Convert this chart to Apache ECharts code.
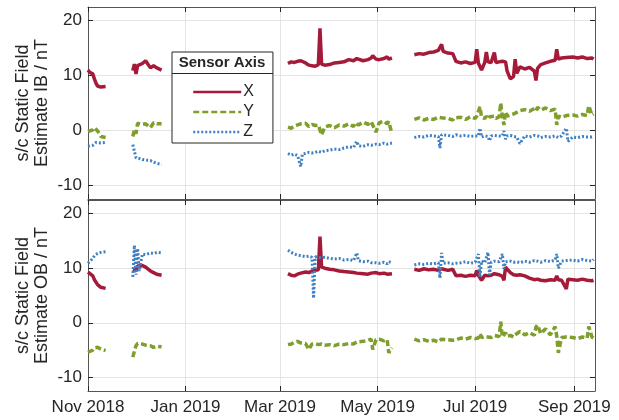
<!DOCTYPE html>
<html>
<head>
<meta charset="utf-8">
<title>Static field estimate</title>
<script src="https://cdn.jsdelivr.net/npm/echarts@6/dist/echarts.min.js"></script>
<style>
  html, body { margin: 0; padding: 0; background: #fff; }
  #chart { width: 619px; height: 420px; }
</style>
</head>
<body>
<div id="chart"></div>
<script>
// sample dates (a lone date with null values = data gap)
var dates = [
  '2018-11-01','2018-11-02','2018-11-04','2018-11-05','2018-11-06','2018-11-07','2018-11-09','2018-11-12',
  '2018-11-20',
  '2018-11-29','2018-11-30','2018-12-01','2018-12-02','2018-12-03','2018-12-05','2018-12-07','2018-12-08',
  '2018-12-10','2018-12-12','2018-12-14','2018-12-17',
  '2019-01-20',
  '2019-03-06','2019-03-08','2019-03-10','2019-03-12','2019-03-13','2019-03-14','2019-03-15','2019-03-17',
  '2019-03-19','2019-03-21','2019-03-22','2019-03-23','2019-03-25','2019-03-26','2019-03-27','2019-03-29',
  '2019-04-01','2019-04-04','2019-04-07','2019-04-10','2019-04-13','2019-04-16','2019-04-17','2019-04-18',
  '2019-04-19','2019-04-22','2019-04-25','2019-04-27','2019-04-28','2019-04-30','2019-05-02','2019-05-05',
  '2019-05-07','2019-05-08','2019-05-10',
  '2019-05-17',
  '2019-05-24','2019-05-27','2019-05-30','2019-06-02','2019-06-05','2019-06-08','2019-06-09','2019-06-10',
  '2019-06-11','2019-06-14','2019-06-17','2019-06-18','2019-06-19','2019-06-22','2019-06-25','2019-06-28',
  '2019-07-01','2019-07-02','2019-07-03','2019-07-04','2019-07-05','2019-07-07','2019-07-08','2019-07-09',
  '2019-07-10','2019-07-11','2019-07-13','2019-07-14','2019-07-16','2019-07-17','2019-07-18','2019-07-19',
  '2019-07-20','2019-07-21','2019-07-23','2019-07-25','2019-07-26','2019-07-27','2019-07-29','2019-08-01',
  '2019-08-04','2019-08-07','2019-08-08','2019-08-09','2019-08-11','2019-08-14','2019-08-17','2019-08-20',
  '2019-08-21','2019-08-22','2019-08-24','2019-08-27','2019-08-28','2019-08-31','2019-09-03','2019-09-06',
  '2019-09-09','2019-09-10','2019-09-12','2019-09-13'
];

// IB sensor estimate, nT
var ibX = [
  11.0, 10.6, 10.3, 9.4, 8.6, 8.1, 7.9, 8.0,
  null,
  10.9, 12.1, 10.3, 11.8, 11.6, 12.2, 12.7, 12.9, 11.4, 11.8, 11.4, 11.0,
  null,
  12.2, 12.5, 12.4, 12.6, 12.8, 12.7, 12.5, 12.3, 11.9, 11.8, 11.9, 11.7, 12.0, 18.6, 12.1, 11.9, 12.0, 12.3,
  12.4, 12.5, 12.9, 12.7, 12.8, 13.1, 12.8, 12.7, 12.9, 13.2, 13.6, 13.0, 12.9, 13.1, 13.4, 13.0, 13.2,
  null,
  13.8, 14.0, 13.9, 14.2, 14.3, 14.6, 14.5, 15.7, 14.4, 14.1, 14.0, 13.9, 12.6, 12.3, 12.5, 12.2, 12.4, 14.8,
  12.3, 12.5, 11.0, 12.4, 14.3, 12.5, 12.2, 12.4, 14.2, 12.4, 12.5, 12.3, 12.6, 12.4, 12.5, 10.8, 9.4, 9.8,
  13.0, 10.4, 11.6, 11.2, 11.5, 10.8, 9.1, 11.3, 12.0, 12.3, 12.6, 12.8, 14.8, 13.0, 13.2, 13.3, 13.1, 13.4,
  13.2, 13.4, 13.1, 13.3, 13.2, 13.0
];
var ibY = [
  -0.2, 0.0, 0.1, 0.5, 0.7, -0.1, -1.1, -1.3,
  null,
  -1.1, 0.1, -0.6, 1.3, 1.6, 1.1, 1.2, 1.3, 0.5, 1.4, 1.2, 1.2,
  null,
  0.6, 0.4, 0.8, 1.0, 1.1, 1.2, 0.9, 1.3, 0.7, 1.1, 1.0, 0.9, 1.0, 0.8, -0.8, 0.6, 0.9, 0.5,
  1.0, 0.8, 1.2, 0.7, 1.4, 1.3, 1.0, 1.5, 1.1, 1.6, 1.9, -0.3, 1.4, 1.7, 1.2, 1.6, -0.6,
  null,
  2.0, 2.3, 1.9, 2.2, 2.0, 2.4, 2.1, 2.3, 2.0, 2.2, 1.9, 2.3, 2.1, 2.4, 2.0, 2.5, 2.2, 2.6,
  2.3, 4.3, 2.4, 2.2, 2.6, 2.1, 2.5, 2.3, 2.6, 2.2, 2.5, 5.0, 2.4, 1.0, 3.4, 2.6, 2.8, 3.0,
  2.7, 3.3, 3.6, 3.8, 3.5, 4.0, 3.6, 4.2, 3.7, 4.1, 3.6, 3.9, 1.0, 2.6, 2.4, 2.7, 2.5, 2.8,
  2.6, 2.9, 2.7, 4.5, 2.8, 3.0
];
var ibZ = [
  -2.9, -3.0, -2.7, -2.5, -2.2, -2.0, -2.3, -2.2,
  null,
  -2.6, -3.8, -5.0, -4.7, -5.1, -5.3, -5.4, -5.6, -5.5, -5.8, -6.0, -6.2,
  null,
  -4.2, -4.5, -4.3, -4.6, -4.4, -6.6, -4.3, -4.2, -4.0, -4.1, -3.9, -4.0, -3.8, -3.9, -4.0, -3.7, -3.6, -3.4,
  -3.5, -3.2, -3.0, -3.1, -2.9, -2.0, -2.8, -2.9, -2.6, -2.7, -2.8, -2.5, -2.6, -2.3, -2.5, -2.2, -2.3,
  null,
  -1.3, -1.1, -1.2, -0.9, -1.0, -1.1, -3.2, -0.8, -1.0, -0.9, -1.1, -1.0, -0.8, -1.0, -0.9, -1.1, -1.0, -0.9,
  -1.0, 0.4, -1.2, -1.0, -0.8, -1.1, -1.9, -1.0, -0.9, -1.1, -1.0, -0.7, -1.0, -0.1, -1.6, -1.0, -0.9, -1.1,
  -1.0, -1.2, -2.4, -1.0, -1.2, -0.9, -1.1, -1.0, -1.3, -1.1, -1.2, -1.0, -1.1, -1.3, -1.0, 0.4, -2.0, -1.2,
  -1.3, -1.1, -1.2, -1.0, -1.2, -1.1
];

// OB sensor estimate, nT
var obX = [
  9.3, 9.0, 8.6, 7.9, 7.6, 7.0, 6.5, 6.3,
  null,
  9.7, 10.0, 9.5, 10.4, 10.6, 10.5, 10.2, 10.0, 9.5, 9.2, 8.9, 8.7,
  null,
  9.0, 8.7, 8.6, 8.9, 9.0, 9.1, 9.2, 9.3, 9.2, 9.5, 9.6, 9.6, 9.7, 15.8, 10.2, 10.0, 9.8, 9.7,
  9.5, 9.4, 9.3, 9.2, 9.3, 9.1, 9.2, 9.0, 8.9, 9.1, 9.0, 9.2, 9.0, 9.1, 8.9, 9.2, 9.0,
  null,
  9.8, 9.6, 9.9, 9.7, 9.8, 9.6, 9.4, 9.9, 9.7, 9.6, 9.8, 9.5, 8.6, 8.7, 8.5, 8.7, 8.6, 9.6,
  8.7, 8.8, 7.8, 8.7, 8.9, 8.6, 8.8, 8.7, 9.0, 8.7, 8.8, 8.6, 8.5, 7.8, 10.2, 9.8, 9.2, 8.8,
  8.9, 8.7, 8.8, 8.6, 8.2, 7.9, 7.8, 8.0, 7.8, 7.7, 7.9, 7.8, 8.6, 7.9, 7.8, 6.2, 8.0, 7.9,
  7.8, 8.0, 7.8, 7.9, 7.7, 7.8
];
var obY = [
  -5.4, -5.6, -5.0, -4.6, -4.4, -4.5, -4.8, -5.1,
  null,
  -6.3, -5.2, -4.2, -3.8, -3.6, -3.9, -4.1, -4.4, -4.2, -4.5, -4.3, -4.4,
  null,
  -4.0, -3.9, -3.6, -3.4, -3.5, -3.7, -4.0, -3.8, -4.9, -3.9, -4.1, -3.8, -4.0, -4.2, -3.9, -4.1, -4.0, -4.2,
  -3.9, -4.0, -3.8, -3.9, -3.6, -3.5, -3.7, -3.4, -3.2, -3.0, -4.9, -3.1, -3.0, -3.3, -3.1, -5.5, -4.6,
  null,
  -3.0, -3.3, -3.1, -3.4, -3.2, -3.5, -3.3, -3.0, -3.3, -3.1, -3.2, -2.9, -3.1, -2.8, -3.0, -2.7, -2.9, -2.6,
  -2.8, -2.0, -2.7, -2.5, -2.8, -2.6, -2.4, -2.7, -2.3, -2.6, -2.5, 0.2, -2.6, -2.4, -1.8, -2.5, -2.3, -2.6,
  -2.2, -2.5, -1.6, -2.2, -1.8, -2.3, -0.8, -0.4, -2.0, -1.1, -2.2, -0.7, -2.4, -5.5, -2.7, -2.6, -2.8, -2.7,
  -2.9, -2.6, -2.8, -0.7, -2.6, -2.8
];
var obZ = [
  10.9, 11.2, 11.8, 12.3, 12.5, 12.7, 12.9, 13.0,
  null,
  8.4, 14.2, 8.8, 13.6, 9.5, 12.6, 12.5, 12.7, 12.8, 12.7, 12.9, 12.8,
  null,
  13.3, 12.9, 12.6, 12.4, 12.3, 12.3, 12.2, 12.1, 12.2, 12.0, 4.5, 12.1, 12.0, 12.1, 11.9, 12.0, 11.8, 11.7,
  11.8, 11.5, 11.6, 11.4, 11.5, 12.8, 11.4, 11.2, 11.3, 11.0, 10.8, 11.0, 10.9, 11.1, 10.8, 11.2, 11.0,
  null,
  10.6, 10.8, 10.7, 10.9, 10.8, 11.0, 8.2, 12.8, 10.9, 11.0, 10.8, 11.1, 10.9, 11.0, 11.2, 10.9, 11.1, 11.0,
  12.6, 8.4, 11.3, 11.0, 11.2, 12.9, 8.8, 11.1, 11.3, 11.0, 11.2, 11.4, 12.6, 9.9, 11.2, 11.0, 11.3, 11.1,
  11.4, 11.2, 11.0, 11.3, 11.1, 11.4, 11.2, 11.3, 11.1, 11.4, 11.2, 11.5, 12.6, 10.0, 11.3, 11.4, 11.2, 11.5,
  11.3, 11.6, 11.4, 11.5, 11.3, 11.6
];

var tickDates = ['2018-11-01', '2019-01-01', '2019-03-01', '2019-05-01', '2019-07-01', '2019-09-01'];
var tickLabels = ['Nov 2018', 'Jan 2019', 'Mar 2019', 'May 2019', 'Jul 2019', 'Sep 2019'];
var yTicks = [-10, 0, 10, 20];
var xStart = '2018-11-01', xEnd = '2019-09-13 22:00:00';

var FONT = '"Liberation Sans", Arial, Helvetica, sans-serif';
var TEXT = '#262626';
var BORDER = '#555555';
var GRID = '#e4e4e4';
var colX = '#A51A38', colY = '#7F9E2C', colZ = '#3E80C2';

// x is a plain value axis in ms, so custom (2-monthly) ticks work
function ms(d) { return +echarts.time.parse(d); }
var tickTimes = tickDates.map(ms);
var times = dates.map(ms);

function fmtDate(v) {
    var i = tickTimes.indexOf(+v);
    return i >= 0 ? tickLabels[i] : '';
}

function xAxisFor(grid, pos, labels, split) {
    return {
        type: 'value', gridIndex: grid, position: pos,
        min: ms(xStart), max: ms(xEnd),
        axisLine: {show: true, onZero: false, lineStyle: {color: BORDER, width: 1}},
        axisTick: {show: true, inside: true, length: 5, customValues: tickTimes, lineStyle: {color: TEXT}},
        axisLabel: {show: labels, customValues: tickTimes, formatter: fmtDate, color: TEXT,
                    fontSize: 17, fontFamily: FONT, margin: 8},
        splitLine: {show: split, lineStyle: {color: GRID, width: 1}}
    };
}

function yAxisFor(grid, pos, labels, name) {
    return {
        type: 'value', gridIndex: grid, position: pos,
        min: -12.5, max: 22.5,
        name: name, nameLocation: 'middle', nameGap: 36, nameMoveOverlap: false,
        nameTextStyle: {fontSize: 18, lineHeight: 19, color: TEXT, fontFamily: FONT},
        axisLine: {show: true, onZero: false, lineStyle: {color: BORDER, width: 1}},
        axisTick: {show: true, inside: true, length: 5, customValues: yTicks, lineStyle: {color: TEXT}},
        axisLabel: {show: labels, customValues: yTicks, color: TEXT, fontSize: 17, fontFamily: FONT, margin: 6},
        splitLine: {show: labels, lineStyle: {color: GRID, width: 1}}
    };
}

function lineSeries(name, vals, axis, color, type, width) {
    return {
        name: name, type: 'line',
        xAxisIndex: axis, yAxisIndex: axis,
        data: times.map(function(t, i) { return [t, vals[i]]; }),
        symbol: 'none', showSymbol: false, connectNulls: false,
        lineStyle: {color: color, type: type, width: width, cap: 'butt'},
        itemStyle: {color: color},
        emphasis: {disabled: true}
    };
}

var chart = echarts.init(document.getElementById('chart'), null, {renderer: 'canvas'});

chart.setOption({
    animation: false,
    backgroundColor: '#fff',
    grid: [
        {left: 88, top: 7, width: 507, height: 192},
        {left: 88, top: 200, width: 507, height: 191}
    ],
    xAxis: [
        xAxisFor(0, 'bottom', false, true),
        xAxisFor(0, 'top', false, false),
        xAxisFor(1, 'bottom', true, true),
        xAxisFor(1, 'top', false, false)
    ],
    yAxis: [
        yAxisFor(0, 'left', true, 's/c Static Field\nEstimate IB / nT'),
        yAxisFor(0, 'right', false, ''),
        yAxisFor(1, 'left', true, 's/c Static Field\nEstimate OB / nT'),
        yAxisFor(1, 'right', false, '')
    ],
    legend: {
        data: ['X', 'Y', 'Z'],
        orient: 'vertical',
        left: 172, top: 52,
        padding: [32, 19, 3, 20],
        itemWidth: 48, itemHeight: 14, itemGap: 4,
        itemStyle: {opacity: 0},
        lineStyle: {width: 2.5},
        backgroundColor: '#fff',
        borderColor: TEXT, borderWidth: 1,
        textStyle: {fontSize: 16, lineHeight: 16, color: TEXT, fontFamily: FONT, padding: [0, 0, 0, -3]},
        selectedMode: false
    },
    graphic: [
        {type: 'text', x: 222, y: 63, z: 100,
         style: {text: 'Sensor Axis', font: 'bold 15px ' + FONT, fill: TEXT,
                 textAlign: 'center', textVerticalAlign: 'middle'}},
        {type: 'line', z: 100, shape: {x1: 172, y1: 73.5, x2: 273, y2: 73.5},
         style: {stroke: TEXT, lineWidth: 1}}
    ],
    series: [
        lineSeries('X', ibX, 0, colX, 'solid', 3.5),
        lineSeries('Y', ibY, 0, colY, [6, 3], 3.5),
        lineSeries('Z', ibZ, 0, colZ, [2, 2], 3),
        lineSeries('X', obX, 2, colX, 'solid', 3.5),
        lineSeries('Y', obY, 2, colY, [6, 3], 3.5),
        lineSeries('Z', obZ, 2, colZ, [2, 2], 3)
    ]
});
</script>
</body>
</html>
